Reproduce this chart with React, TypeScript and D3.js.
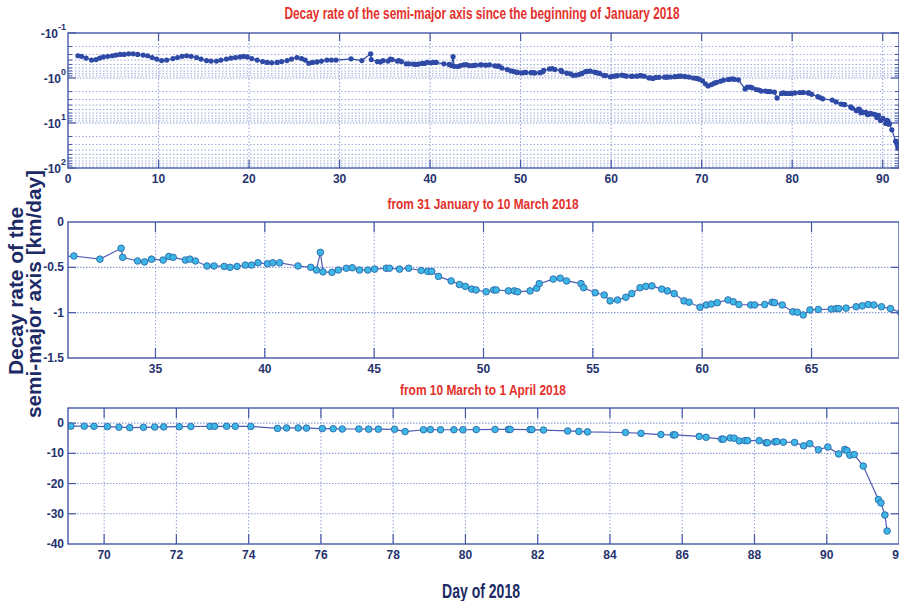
import React from 'react';
import * as d3 from 'd3';

// ---------- data (day of 2018, decay rate km/day) ----------
const janDays = [1.1, 1.5, 2.0, 2.6, 3.1, 3.5, 3.9, 4.4, 4.9, 5.3, 5.75, 6.2, 6.7, 7.2, 7.7, 8.3, 8.8, 9.3, 9.8, 10.35, 10.9, 11.6, 12.1, 12.6, 13.1, 13.6, 14.2, 14.7, 15.3, 15.8, 16.4, 16.9, 17.5, 18.0, 18.5, 19.0, 19.4, 19.8, 20.3, 20.9, 21.5, 22.0, 22.5, 23.1, 23.6, 24.2, 24.7, 25.3, 25.8, 26.2, 26.6, 27.0, 27.5, 28.0, 28.6, 29.1, 29.6];
const janRates = [-0.32, -0.33, -0.36, -0.40, -0.39, -0.36, -0.34, -0.33, -0.32, -0.31, -0.30, -0.30, -0.29, -0.29, -0.30, -0.31, -0.32, -0.35, -0.38, -0.41, -0.40, -0.37, -0.35, -0.33, -0.32, -0.33, -0.35, -0.38, -0.41, -0.42, -0.42, -0.40, -0.38, -0.36, -0.35, -0.34, -0.33, -0.34, -0.37, -0.40, -0.43, -0.45, -0.46, -0.45, -0.43, -0.41, -0.38, -0.35, -0.37, -0.40, -0.47, -0.45, -0.44, -0.42, -0.40, -0.40, -0.40];

const febDays = [31.27, 32.46, 33.43, 33.5, 34.18, 34.5, 34.82, 35.35, 35.61, 35.81, 36.37, 36.57, 36.83, 37.36, 37.68, 38.14, 38.41, 38.73, 39.11, 39.39, 39.69, 40.12, 40.37, 40.68, 41.52, 42.1, 42.36, 42.54, 42.66, 43.07, 43.36, 43.73, 44.0, 44.33, 44.71, 45.02, 45.55, 45.7, 46.16, 46.58, 47.15, 47.45, 47.63, 47.94, 48.52, 48.9, 49.17, 49.46, 49.66, 50.12, 50.47, 50.58, 51.14, 51.41, 51.56, 52.13, 52.43, 52.55, 53.19, 53.51, 53.8, 54.46, 54.58, 55.11, 55.52, 55.79, 56.13, 56.51, 56.78, 57.16, 57.42, 57.7, 58.15, 58.41, 58.72, 59.17, 59.4, 59.9, 60.19, 60.42, 60.69, 61.18, 61.42, 61.68, 62.22, 62.4, 62.86, 63.2, 63.31, 63.66, 64.15, 64.35, 64.62, 64.93, 65.31, 65.9, 66.13, 66.25, 66.58, 67.04, 67.32, 67.59, 67.85, 68.2, 68.61];
const febRates = [-0.375, -0.41, -0.29, -0.39, -0.43, -0.44, -0.41, -0.42, -0.38, -0.39, -0.42, -0.41, -0.43, -0.485, -0.485, -0.49, -0.5, -0.49, -0.475, -0.475, -0.45, -0.46, -0.45, -0.45, -0.485, -0.5, -0.53, -0.335, -0.55, -0.555, -0.53, -0.51, -0.505, -0.53, -0.53, -0.52, -0.51, -0.51, -0.52, -0.51, -0.535, -0.545, -0.545, -0.6, -0.65, -0.69, -0.71, -0.74, -0.75, -0.77, -0.75, -0.75, -0.76, -0.76, -0.77, -0.76, -0.73, -0.68, -0.63, -0.62, -0.65, -0.68, -0.725, -0.78, -0.805, -0.87, -0.86, -0.83, -0.79, -0.725, -0.71, -0.705, -0.74, -0.76, -0.79, -0.87, -0.885, -0.94, -0.915, -0.905, -0.89, -0.86, -0.88, -0.91, -0.915, -0.915, -0.91, -0.885, -0.89, -0.915, -0.99, -0.995, -1.025, -0.97, -0.965, -0.96, -0.955, -0.955, -0.95, -0.935, -0.925, -0.91, -0.915, -0.935, -0.955];

const marDays = [69.08, 69.45, 69.72, 70.09, 70.41, 70.71, 71.09, 71.4, 71.65, 72.08, 72.4, 72.93, 73.06, 73.39, 73.63, 74.06, 74.8, 75.05, 75.37, 75.6, 76.04, 76.34, 76.59, 77.05, 77.32, 77.59, 78.04, 78.33, 78.84, 79.03, 79.31, 79.68, 79.93, 80.3, 80.82, 81.19, 81.24, 81.79, 81.84, 82.16, 82.83, 83.14, 83.38, 84.43, 84.86, 85.41, 85.75, 85.8, 86.47, 86.66, 87.09, 87.14, 87.33, 87.44, 87.58, 87.74, 87.81, 88.13, 88.32, 88.36, 88.56, 88.62, 88.8, 89.11, 89.36, 89.53, 89.77, 90.03, 90.33, 90.5, 90.56, 90.64, 90.76, 91.01, 91.43, 91.5, 91.61, 91.67];
const marRates = [-1.0, -1.02, -1.06, -1.15, -1.35, -1.5, -1.4, -1.3, -1.25, -1.18, -1.12, -1.08, -1.07, -1.05, -1.07, -1.1, -1.75, -1.6, -1.6, -1.65, -1.8, -1.85, -1.95, -1.95, -2.0, -2.0, -2.05, -2.8, -2.2, -2.15, -2.2, -2.2, -2.2, -2.15, -2.1, -2.1, -2.1, -2.15, -2.15, -2.3, -2.6, -2.75, -2.9, -3.1, -3.4, -3.8, -3.9, -3.9, -4.4, -4.7, -5.3, -5.3, -4.9, -5.0, -5.9, -5.8, -5.8, -5.8, -6.5, -6.5, -6.2, -6.1, -6.3, -6.4, -7.5, -6.8, -8.8, -7.9, -10.2, -8.7, -9.1, -10.6, -10.4, -14.2, -25.3, -26.4, -30.4, -35.7];

const topXTicks = [0, 10, 20, 30, 40, 50, 60, 70, 80, 90];
const topYDecades = [-1, 0, 1, 2];
const midXTicks = [35, 40, 45, 50, 55, 60, 65];
const midYTicks = [0, -0.5, -1, -1.5];
const botXTicks = [70, 72, 74, 76, 78, 80, 82, 84, 86, 88, 90, 92];
const botYTicks = [0, -10, -20, -30, -40];

const titleTop = 'Decay rate of the semi-major axis since the beginning of January 2018';
const titleMid = 'from 31 January to 10 March 2018';
const titleBot = 'from 10 March to 1 April 2018';
const yLabel1 = 'Decay rate of the';
const yLabel2 = 'semi-major axis [km/day]';
const xLabel = 'Day of 2018';

// ---------- styles ----------
const FRAME = '#4558a6';
const GRID = '#8f9fd6';
const TICKTXT = '#26336e';
const RED = '#e3302b';
const NAVY = '#1c2a66';
const NARROW = "'Liberation Sans Narrow', 'Arial Narrow', 'Liberation Sans', Arial, sans-serif";
const SANS = "'Liberation Sans', Arial, sans-serif";

const X0 = 68;
const X1 = 899;

const allDays = [...janDays, ...febDays, ...marDays];
const allRates = [...janRates, ...febRates, ...marRates];
const points = allDays.map((d, i) => ({ day: d, rate: allRates[i] }));

type P = { day: number; rate: number };

function Frame({ y0, y1 }: { y0: number; y1: number }) {
  return <rect x={X0} y={y0} width={X1 - X0} height={y1 - y0} fill="none" stroke={FRAME} strokeWidth={1.4} />;
}

function TopPanel() {
  const y0 = 33, y1 = 168;
  const x = d3.scaleLinear().domain([0, 91.8]).range([X0, X1]);
  const y = d3.scaleLog().domain([0.1, 100]).range([y0, y1]);
  const minor: number[] = [];
  [0.1, 1, 10].forEach((dec) => { for (let m = 2; m <= 9; m++) minor.push(dec * m); });
  const majors = topYDecades.map((e) => Math.pow(10, e));
  const line = d3.line<P>().x((p) => x(p.day)).y((p) => y(-p.rate));
  return (
    <g>
      <defs>
        <clipPath id="clipTop"><rect x={X0} y={y0} width={X1 - X0} height={y1 - y0} /></clipPath>
      </defs>
      {topXTicks.slice(1).map((t) => (
        <line key={'vg' + t} x1={x(t)} x2={x(t)} y1={y0} y2={y1} stroke={GRID} strokeWidth={1} strokeDasharray="1.5,2" />
      ))}
      {minor.map((v) => (
        <line key={'mg' + v} x1={X0} x2={X1} y1={y(v)} y2={y(v)} stroke={GRID} strokeWidth={0.9} strokeDasharray="1.5,2" />
      ))}
      {majors.slice(1, 3).map((v) => (
        <line key={'Mg' + v} x1={X0} x2={X1} y1={y(v)} y2={y(v)} stroke={GRID} strokeWidth={1.1} strokeDasharray="1.5,1.5" />
      ))}
      {topXTicks.slice(1).map((t) => (
        <g key={'xt' + t}>
          <line x1={x(t)} x2={x(t)} y1={y0} y2={y0 + 8} stroke={FRAME} strokeWidth={1.2} />
          <line x1={x(t)} x2={x(t)} y1={y1} y2={y1 - 8} stroke={FRAME} strokeWidth={1.2} />
        </g>
      ))}
      {minor.map((v) => (
        <g key={'mt' + v}>
          <line x1={X0} x2={X0 + 4} y1={y(v)} y2={y(v)} stroke={FRAME} strokeWidth={1} />
          <line x1={X1} x2={X1 - 4} y1={y(v)} y2={y(v)} stroke={FRAME} strokeWidth={1} />
        </g>
      ))}
      {majors.map((v) => (
        <g key={'Mt' + v}>
          <line x1={X0} x2={X0 + 8} y1={y(v)} y2={y(v)} stroke={FRAME} strokeWidth={1.2} />
          <line x1={X1} x2={X1 - 8} y1={y(v)} y2={y(v)} stroke={FRAME} strokeWidth={1.2} />
        </g>
      ))}
      <g clipPath="url(#clipTop)">
        <path d={line(points) || ''} fill="none" stroke="#2e49a2" strokeWidth={1.2} />
        {points.map((p, i) => (
          <circle key={i} cx={x(p.day)} cy={y(-p.rate)} r={2.6} fill="#2f4aa6" />
        ))}
      </g>
      <Frame y0={y0} y1={y1} />
      {topXTicks.map((t) => (
        <text key={'xl' + t} x={x(t)} y={183} textAnchor="middle" fontFamily={NARROW} fontWeight="bold" fontSize={12} fill={TICKTXT}>{t}</text>
      ))}
      {topYDecades.map((e) => (
        <text key={'yl' + e} x={66} y={y(Math.pow(10, e)) + 5} textAnchor="end" fontFamily={NARROW} fontWeight="bold" fontSize={12} fill={TICKTXT}>
          -10<tspan dy={-8} fontSize={9}>{e}</tspan>
        </text>
      ))}
    </g>
  );
}

function LinPanel(props: {
  id: string; y0: number; y1: number; xDomain: [number, number]; yDomain: [number, number];
  xTicks: number[]; yTicks: number[]; labelY: number;
}) {
  const { id, y0, y1, xDomain, yDomain, xTicks, yTicks, labelY } = props;
  const x = d3.scaleLinear().domain(xDomain).range([X0, X1]);
  const y = d3.scaleLinear().domain(yDomain).range([y1, y0]);
  const line = d3.line<P>().x((p) => x(p.day)).y((p) => y(p.rate));
  const innerX = xTicks.filter((t) => x(t) > X0 + 1 && x(t) < X1 - 1);
  const innerY = yTicks.filter((t) => y(t) > y0 + 1 && y(t) < y1 - 1);
  return (
    <g>
      <defs>
        <clipPath id={id}><rect x={X0} y={y0} width={X1 - X0} height={y1 - y0} /></clipPath>
      </defs>
      {innerX.map((t) => (
        <line key={'vg' + t} x1={x(t)} x2={x(t)} y1={y0} y2={y1} stroke={GRID} strokeWidth={1} strokeDasharray="1.5,2" />
      ))}
      {innerY.map((t) => (
        <line key={'hg' + t} x1={X0} x2={X1} y1={y(t)} y2={y(t)} stroke={GRID} strokeWidth={1.1} strokeDasharray="1.5,1.5" />
      ))}
      {innerX.map((t) => (
        <g key={'xt' + t}>
          <line x1={x(t)} x2={x(t)} y1={y0} y2={y0 + 10} stroke={FRAME} strokeWidth={1.2} />
          <line x1={x(t)} x2={x(t)} y1={y1} y2={y1 - 10} stroke={FRAME} strokeWidth={1.2} />
        </g>
      ))}
      {innerY.map((t) => (
        <g key={'yt' + t}>
          <line x1={X0} x2={X0 + 8} y1={y(t)} y2={y(t)} stroke={FRAME} strokeWidth={1.2} />
          <line x1={X1} x2={X1 - 8} y1={y(t)} y2={y(t)} stroke={FRAME} strokeWidth={1.2} />
        </g>
      ))}
      <g clipPath={`url(#${id})`}>
        <path d={line(points) || ''} fill="none" stroke="#4f5cb3" strokeWidth={1.2} />
        {points.filter((p) => p.day >= xDomain[0] - 0.2 && p.day <= xDomain[1] + 0.2).map((p, i) => (
          <circle key={i} cx={x(p.day)} cy={y(p.rate)} r={3.3} fill="#3cb6e4" stroke="#2c68aa" strokeWidth={0.9} />
        ))}
      </g>
      <Frame y0={y0} y1={y1} />
      {xTicks.map((t) => (
        <text key={'xl' + t} x={x(t)} y={labelY} textAnchor="middle" fontFamily={NARROW} fontWeight="bold" fontSize={12} fill={TICKTXT}>{t}</text>
      ))}
      {yTicks.map((t) => (
        <text key={'yl' + t} x={64} y={y(t) + 4} textAnchor="end" fontFamily={NARROW} fontWeight="bold" fontSize={12} fill={TICKTXT}>{t}</text>
      ))}
    </g>
  );
}

export default function App() {
  return (
    <svg width={899} height={601} viewBox="0 0 899 601" style={{ position: 'absolute', left: 0, top: 0, background: '#fff' }}>
      <rect x={0} y={0} width={899} height={601} fill="#fff" />
      <text x={482} y={19} textAnchor="middle" fontFamily={NARROW} fontWeight="bold" fontSize={16} fill={RED} textLength={395} lengthAdjust="spacingAndGlyphs">{titleTop}</text>
      <TopPanel />
      <text x={483} y={209} textAnchor="middle" fontFamily={NARROW} fontWeight="bold" fontSize={15} fill={RED} textLength={191} lengthAdjust="spacingAndGlyphs">{titleMid}</text>
      <LinPanel id="clipMid" y0={222} y1={358} xDomain={[31, 69]} yDomain={[-1.5, 0]} xTicks={midXTicks} yTicks={midYTicks} labelY={373} />
      <text x={483} y={395} textAnchor="middle" fontFamily={NARROW} fontWeight="bold" fontSize={15} fill={RED} textLength={166} lengthAdjust="spacingAndGlyphs">{titleBot}</text>
      <LinPanel id="clipBot" y0={408} y1={544} xDomain={[69, 92]} yDomain={[-40, 5]} xTicks={botXTicks} yTicks={botYTicks} labelY={559} />
      <text transform="translate(23,291) rotate(-90)" textAnchor="middle" fontFamily={SANS} fontWeight="bold" fontSize={21} fill={NAVY} textLength={168} lengthAdjust="spacingAndGlyphs">{yLabel1}</text>
      <text transform="translate(41,294) rotate(-90)" textAnchor="middle" fontFamily={SANS} fontWeight="bold" fontSize={21} fill={NAVY} textLength={248} lengthAdjust="spacingAndGlyphs">{yLabel2}</text>
      <text x={481} y={598} textAnchor="middle" fontFamily={NARROW} fontWeight="bold" fontSize={21} fill={NAVY} textLength={78} lengthAdjust="spacingAndGlyphs">{xLabel}</text>
    </svg>
  );
}
